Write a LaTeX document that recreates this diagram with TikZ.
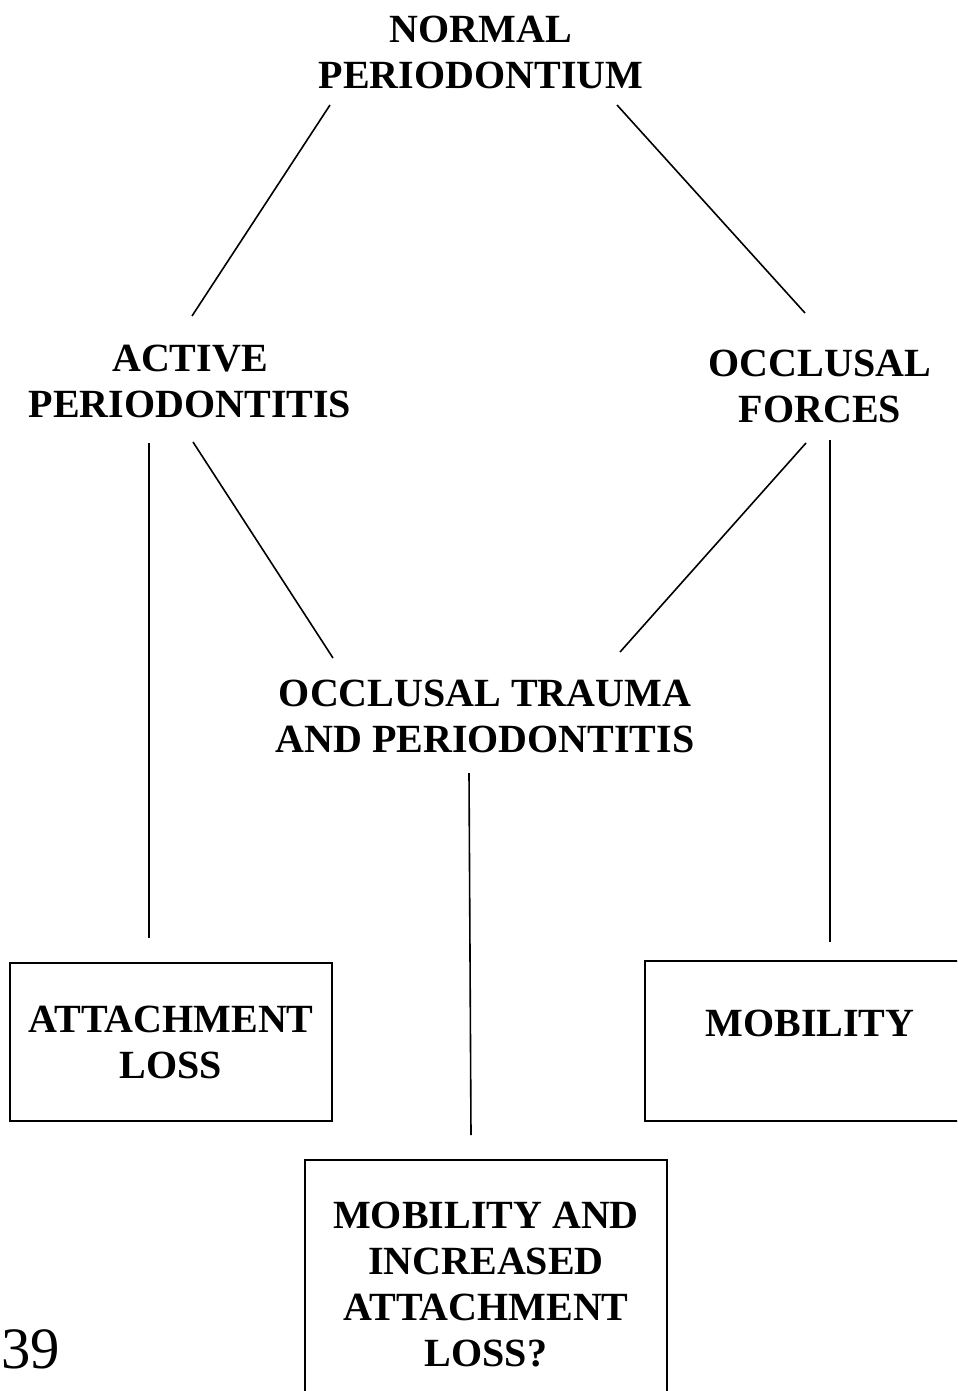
\documentclass[tikz,border=0pt]{standalone}
\usepackage{fontspec}
\setmainfont{Liberation Serif}
\usetikzlibrary{positioning, calc}

\begin{document}
\begin{tikzpicture}[x=0.75pt, y=-0.75pt,
            every node/.style={
            align=center,
            inner sep=0pt,
            font=\bfseries\fontsize{30}{34.5}\selectfont},
            outcome/.style={draw, line width=1.4pt},
            link/.style={line width=1.2pt}]
            \clip (0,0) rectangle (957,1391);
            \node (np) at (481,52) {NORMAL\\PERIODONTIUM};
            \node (ap) at (190,381) {ACTIVE\\PERIODONTITIS};
            \node (of) at (820,386) {OCCLUSAL\\FORCES};
            \node (ot) at (485,716) {OCCLUSAL TRAUMA\\AND PERIODONTITIS};
            \node[outcome, minimum width=242pt, minimum height=119pt] (al) at (171,1042) {ATTACHMENT\\LOSS};
            \node[outcome, minimum width=248pt, minimum height=120pt, text depth=26pt] (mob) at (810,1041) {MOBILITY};
            \node[outcome, minimum width=272pt, minimum height=188pt] (mai) at (486,1285) {MOBILITY AND\\INCREASED\\ATTACHMENT\\LOSS?};
            \node[font=\fontsize{44}{44}\selectfont, anchor=base west] (pg) at (1,1368) {39};
            \draw[link] ($(np.center)+(-151,53)$) -- ($(ap.center)+(2,-65)$);
            \draw[link] ($(np.center)+(136,53)$) -- ($(of.center)+(-15,-73)$);
            \draw[link] ($(ap.center)+(-41,62)$) -- ($(al.center)+(-22,-104)$);
            \draw[link] ($(ap.center)+(3,61)$) -- ($(ot.center)+(-152,-58)$);
            \draw[link] ($(of.center)+(-14,57)$) -- ($(ot.center)+(135,-64)$);
            \draw[link] ($(of.center)+(10,54)$) -- ($(mob.center)+(20,-99)$);
            \draw[link] ($(ot.center)+(-16,57)$) -- ($(mai.center)+(-15,-150)$);
        \end{tikzpicture}
\end{document}
